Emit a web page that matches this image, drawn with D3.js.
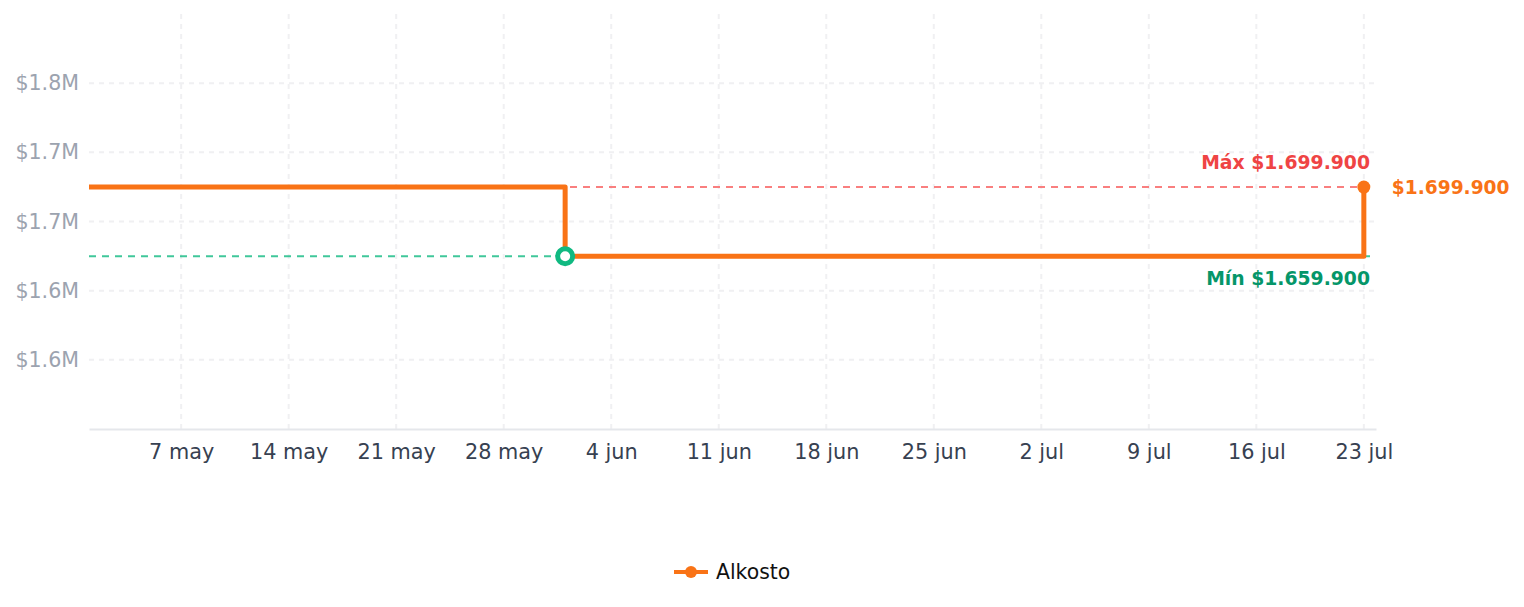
<!DOCTYPE html>
<html><head><meta charset="utf-8">
<script src="https://cdn.jsdelivr.net/npm/d3@7"></script>
<style>body{margin:0;background:#fff;font-family:"DejaVu Sans",sans-serif}</style>
</head><body><svg id="c" width="1524" height="607"></svg>
<script>
const dates = ["2025-05-01","2025-06-01","2025-07-23"];
const prices = [1699900, 1659900, 1699900];
const yTicks = [1600000, 1640000, 1680000, 1720000, 1760000];
const xTickDates = ["2025-05-07","2025-05-14","2025-05-21","2025-05-28","2025-06-04","2025-06-11","2025-06-18","2025-06-25","2025-07-02","2025-07-09","2025-07-16","2025-07-23"];
const months = ["ene","feb","mar","abr","may","jun","jul","ago","sep","oct","nov","dic"];
const seriesName = "Alkosto";
const xDomain = ["2025-05-01T00:00","2025-07-23T19:00"];
const yDomain = [1560000, 1800000];

const parse = s => new Date(s.length > 10 ? s : s + "T00:00");
const data = dates.map((d,i)=>({d:parse(d), v:prices[i]}));
const svg = d3.select("#c");
const L=89, R=1376, T=14, B=429;
const x = d3.scaleTime().domain(xDomain.map(parse)).range([L,R]);
const y = d3.scaleLinear().domain(yDomain).range([B,T]);
const fmtM = v => "$" + (v/1e6).toFixed(1) + "M";
const fmtP = v => "$" + d3.format(",")(v).replace(/,/g,".");

// grid
const g = svg.append("g");
g.selectAll(".hg").data(yTicks).join("line")
  .attr("x1",L).attr("x2",R).attr("y1",d=>y(d)).attr("y2",d=>y(d))
  .attr("stroke","#f0f0f2").attr("stroke-width",2).attr("stroke-dasharray","5,5");
g.selectAll(".vg").data(xTickDates.map(parse)).join("line")
  .attr("x1",d=>x(d)).attr("x2",d=>x(d)).attr("y1",T).attr("y2",B)
  .attr("stroke","#f0f0f2").attr("stroke-width",2).attr("stroke-dasharray","5,5");

// y axis
const ya = svg.append("g").attr("transform",`translate(${L},0)`)
  .call(d3.axisLeft(y).tickValues(yTicks).tickFormat(fmtM).tickSize(0).tickPadding(10));
ya.select(".domain").remove();
ya.selectAll("text").attr("fill","#9ca3af").attr("font-size",20.6).attr("font-family","DejaVu Sans");

// x axis
const xa = svg.append("g").attr("transform",`translate(0,${B})`)
  .call(d3.axisBottom(x).tickValues(xTickDates.map(parse))
    .tickFormat(d=>d.getDate()+" "+months[d.getMonth()]).tickSize(0).tickPadding(15));
xa.select(".domain").attr("stroke","#e5e7eb").attr("stroke-width",2);
xa.selectAll("text").attr("fill","#374151").attr("font-size",20.8).attr("font-family","DejaVu Sans");

const maxV = d3.max(prices), minV = d3.min(prices);
const minI = prices.indexOf(minV);
const minPt = data[minI];
// reference lines
svg.append("line").attr("x1",L).attr("x2",R).attr("y1",y(minV)).attr("y2",y(minV))
  .attr("stroke","#10b981").attr("stroke-opacity",0.8).attr("stroke-width",2).attr("stroke-dasharray","7,6");
svg.append("line").attr("x1",L).attr("x2",R).attr("y1",y(maxV)).attr("y2",y(maxV))
  .attr("stroke","#f87171").attr("stroke-opacity",0.9).attr("stroke-width",2).attr("stroke-dasharray","7,6");

// line
const line = d3.line().x(d=>x(d.d)).y(d=>y(d.v)).curve(d3.curveStepAfter);
svg.append("path").datum(data).attr("d",line).attr("fill","none")
  .attr("stroke","#f97316").attr("stroke-width",5).attr("stroke-linejoin","round");

// min marker
svg.append("circle").attr("cx",x(minPt.d)).attr("cy",y(minV)).attr("r",7.5)
  .attr("fill","#fff").attr("stroke","#10b981").attr("stroke-width",5);
// last point
const last = data[data.length-1];
svg.append("circle").attr("cx",x(last.d)).attr("cy",y(last.v)).attr("r",6.5).attr("fill","#f97316");
svg.append("text").attr("x",x(last.d)+28).attr("y",y(last.v)).attr("dy","0.35em")
  .attr("fill","#f97316").attr("font-weight","bold").attr("font-size",18.6).text(fmtP(last.v));

// labels
svg.append("text").attr("x",1370).attr("y",y(maxV)-18).attr("text-anchor","end")
  .attr("fill","#ef4444").attr("font-weight","bold").attr("font-size",18.8).text("Máx " + fmtP(maxV));
svg.append("text").attr("x",1370).attr("y",y(minV)+29).attr("text-anchor","end")
  .attr("fill","#059669").attr("font-weight","bold").attr("font-size",18.8).text("Mín " + fmtP(minV));

// legend
const lg = svg.append("g").attr("transform","translate(674,572)");
lg.append("line").attr("x1",0).attr("x2",34).attr("stroke","#f97316").attr("stroke-width",4);
lg.append("circle").attr("cx",17).attr("r",6).attr("fill","#f97316");
lg.append("text").attr("x",42).attr("dy","0.35em").attr("font-size",20.4).attr("fill","#111").text(seriesName);
</script></body></html>
